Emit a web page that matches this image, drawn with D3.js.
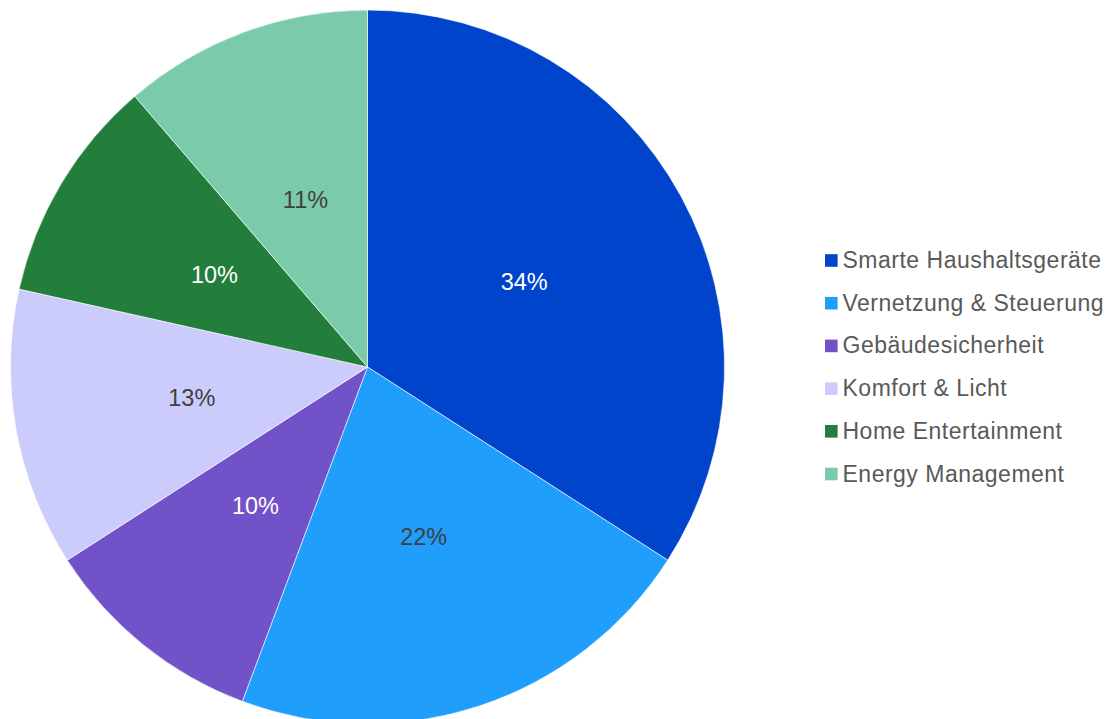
<!DOCTYPE html>
<html>
<head>
<meta charset="utf-8">
<script src="https://cdn.jsdelivr.net/npm/d3@7"></script>
<style>
  body { margin: 0; background: #fff; }
  svg { display: block; }
</style>
</head>
<body>
<svg id="canvas"></svg>
<script>
// Data
let categories = [
  "Smarte Haushaltsgeräte",
  "Vernetzung & Steuerung",
  "Gebäudesicherheit",
  "Komfort & Licht",
  "Home Entertainment",
  "Energy Management"
];
let values = [34.1, 21.6, 10.2, 12.6, 10.2, 11.3];
let colors = ["#0044cc", "#1f9efc", "#7152c8", "#ccccfc", "#237d3b", "#7bcbab"];
let labelColors = ["#ffffff", "#404040", "#ffffff", "#404040", "#ffffff", "#404040"];

let width = 1112;
let height = 719;
let cx = 367.5;
let cy = 367;
let radius = 357;

let canvas = d3.select("#canvas").attr("width", width).attr("height", height);

let items = categories.map((c, i) => ({ name: c, value: values[i], color: colors[i], labelColor: labelColors[i] }));

let pie = d3.pie().sort(null).value((d) => d.value);
let arc = d3.arc().innerRadius(0).outerRadius(radius);
let labelArc = d3.arc().innerRadius(radius * 0.5).outerRadius(radius * 0.5);

let g = canvas.append("g").attr("transform", "translate(" + cx + "," + cy + ")");

let slices = pie(items);

g.selectAll("path")
  .data(slices)
  .enter()
  .append("path")
  .attr("d", arc)
  .attr("fill", (d) => d.data.color)
  .attr("stroke", "#ffffff")
  .attr("stroke-width", 0.6);

let total = d3.sum(values);
g.selectAll("text")
  .data(slices)
  .enter()
  .append("text")
  .attr("transform", (d) => "translate(" + labelArc.centroid(d) + ")")
  .attr("text-anchor", "middle")
  .attr("dy", "0.35em")
  .attr("font-family", "'Liberation Sans', Arial, sans-serif")
  .attr("font-size", 23.5)
  .attr("fill", (d) => d.data.labelColor)
  .text((d) => Math.round((d.data.value / total) * 100) + "%");

// Legend
let legendY = d3.scalePoint().domain(categories).range([260.5, 474]);

let legend = canvas.append("g");
let rows = legend.selectAll("g")
  .data(items)
  .enter()
  .append("g")
  .attr("transform", (d) => "translate(825," + legendY(d.name) + ")");

rows.append("rect")
  .attr("x", 0)
  .attr("y", -6.3)
  .attr("width", 12.6)
  .attr("height", 12.6)
  .attr("fill", (d) => d.color);

rows.append("text")
  .attr("x", 17.5)
  .attr("dy", "0.33em")
  .attr("font-family", "'Liberation Sans', Arial, sans-serif")
  .attr("font-size", 23)
  .attr("letter-spacing", 0.5)
  .attr("fill", "#595959")
  .text((d) => d.name);
</script>
</body>
</html>
